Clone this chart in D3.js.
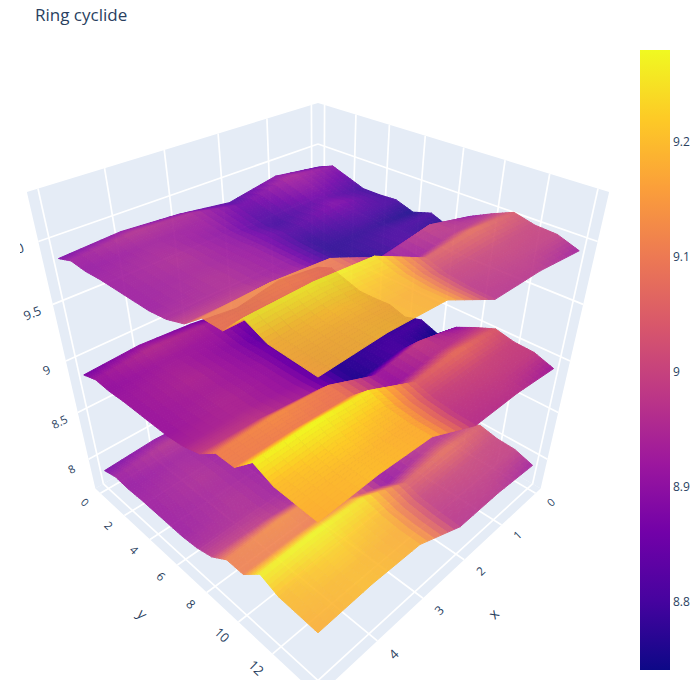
<!DOCTYPE html>
<html>
<head>
<meta charset="utf-8">
<script src="https://cdn.jsdelivr.net/npm/d3@7"></script>
<style>
 body { margin: 0; background: #fff; }
 text { font-family: "Open Sans", verdana, arial, sans-serif; fill: #2a3f5f; }
</style>
</head>
<body>
<script>
const width = 700;
const height = 700;

// grid coordinates of the surfaces
const xVals = [0, 1, 2, 3, 4, 5];
const yVals = [0, 1, 2, 3, 4, 5, 6, 7, 8, 9, 10, 11, 12, 13, 14];

// one row per y value, one column per x value
const zUpper = [
 [9.83, 9.89, 9.81, 9.87, 9.9, 9.87],
 [9.89, 9.94, 9.85, 9.94, 9.96, 9.92],
 [9.84, 9.9, 9.82, 9.92, 9.93, 9.91],
 [9.79, 9.85, 9.79, 9.9, 9.94, 9.92],
 [9.79, 9.88, 9.81, 9.9, 9.95, 9.92],
 [9.8, 9.82, 9.78, 9.91, 9.94, 9.92],
 [9.75, 9.78, 9.77, 9.91, 9.95, 9.92],
 [9.8, 9.8, 9.77, 9.91, 9.95, 9.94],
 [9.74, 9.81, 9.76, 9.93, 9.98, 9.99],
 [9.89, 9.99, 9.92, 10.1, 10.13, 10.11],
 [9.97, 9.97, 9.91, 10.09, 10.11, 10.11],
 [10.04, 10.08, 10.05, 10.25, 10.28, 10.27],
 [10, 10.01, 10, 10.2, 10.23, 10.2],
 [9.99, 9.99, 9.98, 10.18, 10.2, 10.19],
 [9.93, 9.97, 9.97, 10.18, 10.2, 10.18]
];
const zMiddle = [
 [8.83, 8.89, 8.81, 8.87, 8.9, 8.87],
 [8.89, 8.94, 8.85, 8.94, 8.96, 8.92],
 [8.84, 8.9, 8.82, 8.92, 8.93, 8.91],
 [8.79, 8.85, 8.79, 8.9, 8.94, 8.92],
 [8.79, 8.88, 8.81, 8.9, 8.95, 8.92],
 [8.8, 8.82, 8.78, 8.91, 8.94, 8.92],
 [8.75, 8.78, 8.77, 8.91, 8.95, 8.92],
 [8.8, 8.8, 8.77, 8.91, 8.95, 8.94],
 [8.74, 8.81, 8.76, 8.93, 8.98, 8.99],
 [8.89, 8.99, 8.92, 9.1, 9.13, 9.11],
 [8.97, 8.97, 8.91, 9.09, 9.11, 9.11],
 [9.04, 9.08, 9.05, 9.25, 9.28, 9.27],
 [9, 9.01, 9, 9.2, 9.23, 9.2],
 [8.99, 8.99, 8.98, 9.18, 9.2, 9.19],
 [8.93, 8.97, 8.97, 9.18, 9.2, 9.18]
];
const zLower = [
 [7.83, 7.89, 7.81, 7.87, 7.9, 7.87],
 [7.89, 7.94, 7.85, 7.94, 7.96, 7.92],
 [7.84, 7.9, 7.82, 7.92, 7.93, 7.91],
 [7.79, 7.85, 7.79, 7.9, 7.94, 7.92],
 [7.79, 7.88, 7.81, 7.9, 7.95, 7.92],
 [7.8, 7.82, 7.78, 7.91, 7.94, 7.92],
 [7.75, 7.78, 7.77, 7.91, 7.95, 7.92],
 [7.8, 7.8, 7.77, 7.91, 7.95, 7.94],
 [7.74, 7.81, 7.76, 7.93, 7.98, 7.99],
 [7.89, 7.99, 7.92, 8.1, 8.13, 8.11],
 [7.97, 7.97, 7.91, 8.09, 8.11, 8.11],
 [8.04, 8.08, 8.05, 8.25, 8.28, 8.27],
 [8, 8.01, 8, 8.2, 8.23, 8.2],
 [7.99, 7.99, 7.98, 8.18, 8.2, 8.19],
 [7.93, 7.97, 7.97, 8.18, 8.2, 8.18]
];
// the two outer surfaces are slightly see-through
const surfaceOpacity = [0.9, 1, 0.9];

const xTicks = [0, 1, 2, 3, 4, 5];
const yTicks = [0, 2, 4, 6, 8, 10, 12, 14];
const zTicks = [8, 8.5, 9, 9.5, 10];
const barTicks = [8.8, 8.9, 9, 9.1, 9.2];
const plasma = ["#0d0887", "#46039f", "#7201a8", "#9c179e", "#bd3786",
                "#d8576b", "#ed7953", "#fb9f3a", "#fdca26", "#f0f921"];

// scene viewport (plot area) and camera
const plotArea = {left: 20, top: 40, right: 616, bottom: 680};
const cx = (plotArea.left + plotArea.right) / 2;
const cy = (plotArea.top + plotArea.bottom) / 2;
const focal = (plotArea.bottom - plotArea.top) / 2 / Math.tan(Math.PI / 8);
const eye = [1.25, 1.25, 1.25];
const subdiv = 6;

function dot(a, b) { return a[0]*b[0] + a[1]*b[1] + a[2]*b[2]; }
function sub(a, b) { return [a[0]-b[0], a[1]-b[1], a[2]-b[2]]; }
function cross(a, b) { return [a[1]*b[2]-a[2]*b[1], a[2]*b[0]-a[0]*b[2], a[0]*b[1]-a[1]*b[0]]; }
function unit(a) { const l = Math.sqrt(dot(a, a)); return [a[0]/l, a[1]/l, a[2]/l]; }

const fwd = unit([-eye[0], -eye[1], -eye[2]]);
const right = unit(cross(fwd, [0, 0, 1]));
const up = cross(right, fwd);

function project(p)
{
 const d = sub(p, eye);
 const depth = dot(d, fwd);
 return {x: cx + focal * dot(d, right) / depth, y: cy - focal * dot(d, up) / depth, depth: depth};
}

// plotly pads 3d autoranges by 1/32 of the span on each side
function padded(ext)
{
 const d = ext[1] - ext[0];
 return [ext[0] - d / 32, ext[1] + d / 32];
}

const allZ = zUpper.flat().concat(zMiddle.flat(), zLower.flat());
const xs = d3.scaleLinear().domain(padded(d3.extent(xVals))).range([-0.5, 0.5]);
const ys = d3.scaleLinear().domain(padded(d3.extent(yVals))).range([-0.5, 0.5]);
const zs = d3.scaleLinear().domain(padded(d3.extent(allZ))).range([-0.5, 0.5]);

// fractional grid index -> data coordinate
const xIdx = d3.scaleLinear().domain(d3.range(xVals.length)).range(xVals);
const yIdx = d3.scaleLinear().domain(d3.range(yVals.length)).range(yVals);

function colorScaleFor(Z)
{
 const ext = d3.extent(Z.flat());
 return d3.scaleLinear()
   .domain(plasma.map((c, k) => ext[0] + k / (plasma.length - 1) * (ext[1] - ext[0])))
   .range(plasma)
   .interpolate(d3.interpolateRgb)
   .clamp(true);
}

function sampleZ(Z, fy, fx)
{
 const i = Math.min(Math.floor(fy), Z.length - 2);
 const j = Math.min(Math.floor(fx), Z[0].length - 2);
 const ty = fy - i, tx = fx - j;
 return (1-ty) * ((1-tx) * Z[i][j] + tx * Z[i][j+1]) + ty * ((1-tx) * Z[i+1][j] + tx * Z[i+1][j+1]);
}

function buildQuads(Z)
{
 const color = colorScaleFor(Z);
 const nyPts = (Z.length - 1) * subdiv + 1;
 const nxPts = (Z[0].length - 1) * subdiv + 1;
 const grid = [];
 for (let a = 0; a < nyPts; a++)
 {
   const row = [];
   for (let b = 0; b < nxPts; b++)
   {
     const fy = a / subdiv, fx = b / subdiv;
     const z = sampleZ(Z, fy, fx);
     const p = [xs(xIdx(fx)), ys(yIdx(fy)), zs(z)];
     row.push({p: p, s: project(p), z: z});
   }
   grid.push(row);
 }
 const quads = [];
 for (let a = 0; a < nyPts - 1; a++)
 {
   for (let b = 0; b < nxPts - 1; b++)
   {
     const c = [grid[a][b], grid[a][b+1], grid[a+1][b+1], grid[a+1][b]];
     const v = (c[0].z + c[1].z + c[2].z + c[3].z) / 4;
     const mid = project([(c[0].p[0]+c[2].p[0])/2, (c[0].p[1]+c[2].p[1])/2, (c[0].p[2]+c[1].p[2]+c[2].p[2]+c[3].p[2])/4]);
     quads.push({pts: c.map(q => [q.s.x, q.s.y]), color: color(v), depth: mid.depth});
   }
 }
 quads.sort((q1, q2) => q2.depth - q1.depth);
 return quads;
}

const svg = d3.select("body")
  .append("svg")
    .attr("width", width)
    .attr("height", height);

svg.append("defs")
  .append("clipPath")
    .attr("id", "sceneClip")
  .append("rect")
    .attr("x", plotArea.left)
    .attr("y", plotArea.top)
    .attr("width", plotArea.right - plotArea.left)
    .attr("height", plotArea.bottom - plotArea.top);

const scene = svg.append("g").attr("clip-path", "url(#sceneClip)");
const line = d3.line().x(d => d[0]).y(d => d[1]);
const toScreen = p => { const s = project(p); return [s.x, s.y]; };

// back walls: floor, y = min wall, x = min wall
const walls = [
 [[-0.5, -0.5, -0.5], [0.5, -0.5, -0.5], [0.5, 0.5, -0.5], [-0.5, 0.5, -0.5]],
 [[-0.5, -0.5, -0.5], [0.5, -0.5, -0.5], [0.5, -0.5, 0.5], [-0.5, -0.5, 0.5]],
 [[-0.5, -0.5, -0.5], [-0.5, 0.5, -0.5], [-0.5, 0.5, 0.5], [-0.5, -0.5, 0.5]]
];
scene.append("g")
  .selectAll("path")
    .data(walls)
      .join("path")
        .attr("d", d => line(d.map(toScreen)) + "Z")
        .attr("fill", "#e5ecf6");

// grid lines on the walls
let gridLines = [];
xTicks.forEach(t => {
 const x = xs(t);
 gridLines.push([[x, -0.5, -0.5], [x, 0.5, -0.5]]);
 gridLines.push([[x, -0.5, -0.5], [x, -0.5, 0.5]]);
});
yTicks.forEach(t => {
 const y = ys(t);
 gridLines.push([[-0.5, y, -0.5], [0.5, y, -0.5]]);
 gridLines.push([[-0.5, y, -0.5], [-0.5, y, 0.5]]);
});
zTicks.forEach(t => {
 const z = zs(t);
 gridLines.push([[-0.5, -0.5, z], [0.5, -0.5, z]]);
 gridLines.push([[-0.5, -0.5, z], [-0.5, 0.5, z]]);
});
scene.append("g")
  .selectAll("path")
    .data(gridLines)
      .join("path")
        .attr("d", d => line(d.map(toScreen)))
        .attr("stroke", "#ffffff")
        .attr("stroke-width", 1.7)
        .attr("fill", "none");

// surfaces, bottom one first
[zLower, zMiddle, zUpper].forEach((Z, k) => {
 scene.append("g")
   .attr("opacity", surfaceOpacity[2 - k])
   .selectAll("path")
     .data(buildQuads(Z))
       .join("path")
         .attr("d", d => line(d.pts) + "Z")
         .attr("fill", d => d.color)
         .attr("stroke", d => d.color)
         .attr("stroke-width", 1)
         .attr("stroke-linejoin", "round");
});

// tick labels, turned along the projected axis direction
function labelAngle(a, b)
{
 const p = project(a), q = project(b);
 let ang = Math.atan2(q.y - p.y, q.x - p.x) * 180 / Math.PI;
 if (ang > 90) ang -= 180;
 if (ang < -90) ang += 180;
 return ang;
}

let labels = [];
xTicks.forEach(t => labels.push({text: String(t), p: [xs(t), 0.555, -0.5], q: [xs(t) - 0.05, 0.555, -0.5], size: 12}));
yTicks.forEach(t => labels.push({text: String(t), p: [0.555, ys(t), -0.5], q: [0.555, ys(t) + 0.05, -0.5], size: 12}));
zTicks.forEach(t => labels.push({text: String(t), p: [0.56, -0.5, zs(t)], q: [0.51, -0.5, zs(t)], size: 12}));
labels.push({text: "x", p: [xs(2.5), 0.665, -0.5], q: [xs(2.5) - 0.05, 0.665, -0.5], size: 14});
labels.push({text: "y", p: [0.665, ys(7), -0.5], q: [0.665, ys(7) + 0.05, -0.5], size: 14});
labels.push({text: "z", p: [0.665, -0.5, zs(9)], q: [0.615, -0.5, zs(9)], size: 14});

// the 3d viewport hides labels whose anchor falls outside it
const inView = d => {
 const s = project(d.p);
 return s.x > plotArea.left - 8 && s.x < plotArea.right && s.y > plotArea.top && s.y < plotArea.bottom;
};

// labels live in the scene, so nearer ones come out a little larger
const refDepth = 2.15;

scene.append("g")
  .selectAll("text")
    .data(labels.filter(inView))
      .join("text")
        .attr("transform", d => { const s = project(d.p); return "translate(" + s.x + "," + s.y + ") rotate(" + labelAngle(d.p, d.q) + ")"; })
        .attr("text-anchor", "middle")
        .attr("dominant-baseline", "central")
        .attr("font-size", d => (d.size * refDepth / project(d.p).depth).toFixed(1))
        .text(d => d.text);

// colorbar for the middle surface
const barScale = d3.scaleLinear().domain(d3.extent(zMiddle.flat())).range([670, 50]);
const grad = svg.select("defs")
  .append("linearGradient")
    .attr("id", "barGrad")
    .attr("x1", 0).attr("y1", 1).attr("x2", 0).attr("y2", 0);
grad.selectAll("stop")
  .data(plasma)
    .join("stop")
      .attr("offset", (d, i) => i / (plasma.length - 1))
      .attr("stop-color", d => d);

svg.append("rect")
  .attr("x", 640)
  .attr("y", barScale.range()[1])
  .attr("width", 30)
  .attr("height", barScale.range()[0] - barScale.range()[1])
  .attr("fill", "url(#barGrad)");

svg.append("g")
  .selectAll("text")
    .data(barTicks)
      .join("text")
        .attr("x", 673)
        .attr("y", d => barScale(d))
        .attr("dominant-baseline", "central")
        .attr("font-size", 12)
        .text(d => String(d));

svg.append("text")
  .attr("x", 35)
  .attr("y", 21)
  .attr("font-size", 17)
  .text("Ring cyclide");
</script>
</body>
</html>
